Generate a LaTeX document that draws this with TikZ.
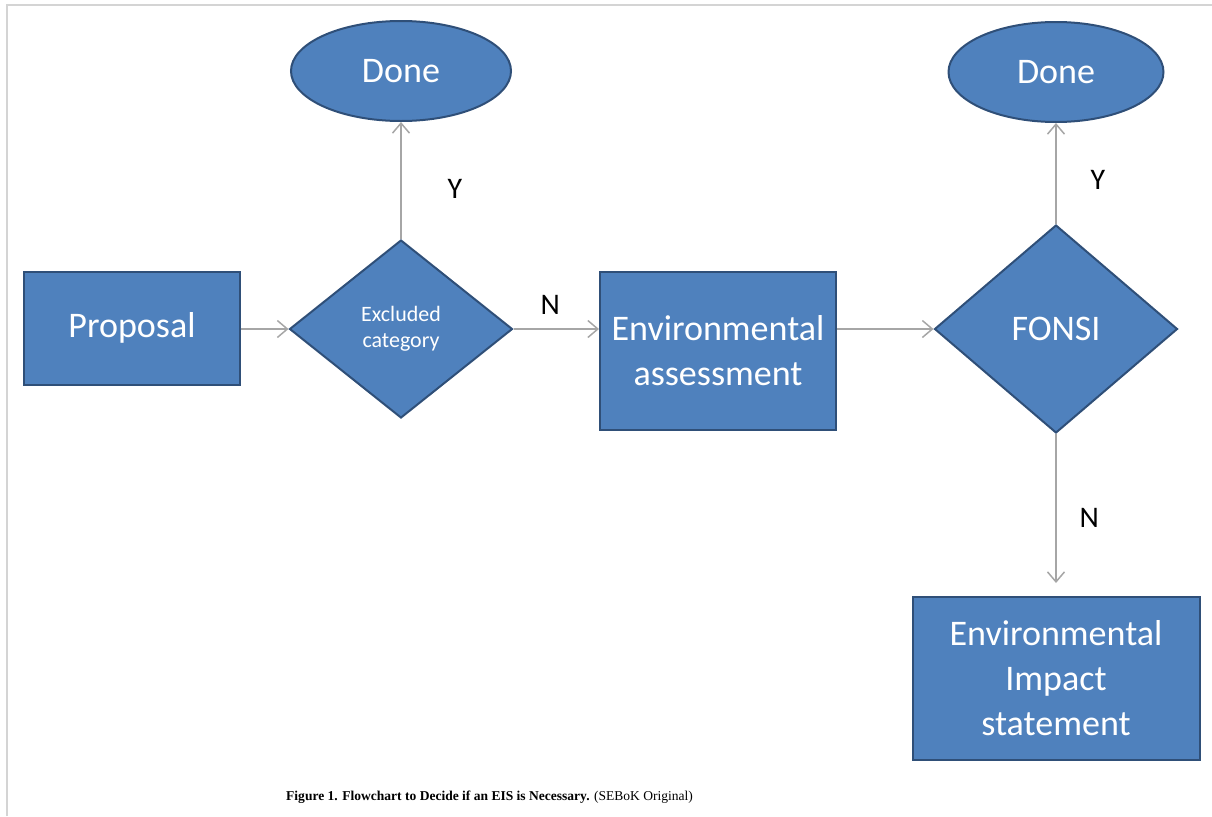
\documentclass[tikz,border=0pt]{standalone}
\usepackage{fontspec}
\setmainfont{Liberation Serif}
\newfontfamily\calibri{Carlito}
\usepackage{xcolor}
\usetikzlibrary{arrows.meta,positioning,shapes.geometric}
\definecolor{boxblue}{HTML}{4F81BD}
\definecolor{boxedge}{HTML}{2F4F78}
\definecolor{arrowgray}{HTML}{A6A6A6}
\definecolor{framegray}{HTML}{D4D4D4}

\begin{document}
\begin{tikzpicture}[
    x=0.2mm, y=-0.2mm,
    >=Latex,
    block/.style={draw=boxedge, fill=boxblue, line width=0.4mm, text=white, align=center, inner sep=0pt, font=\calibri\fontsize{20.5}{25.6}\selectfont},
    terminal/.style={block, ellipse, minimum width=43mm, minimum height=20mm},
    decision/.style={block, diamond, aspect=1.2},
    line/.style={-{Straight Barb[length=2mm, width=3.4mm]}, arrowgray, line width=0.3mm},
    yn/.style={text=black, font=\calibri\fontsize{17}{20}\selectfont}
]
\useasboundingbox (0,0) rectangle (1212,816);
% Page frame
\draw[framegray, line width=0.4mm] (7,816) -- (7,5) -- (1212,5);

% Main row, left to right.
\node[block, minimum width=43mm, minimum height=22.6mm] (proposal) at (132,328) {Proposal};
\node[decision, minimum width=44.6mm, minimum height=35.6mm, font=\calibri\fontsize{12.5}{15}\selectfont] (excluded) at (401,329) {Excluded\\category};
\node[block, minimum width=47.2mm, minimum height=31.6mm] (assess) at (718,351) {Environmental\\assessment};
\node[decision, minimum width=48.6mm, minimum height=41.6mm] (fonsi) at (1056,329) {FONSI};

% Outcomes of the two decisions.
\node[terminal, minimum width=44mm, above=23.4mm of excluded] (done1) {Done};
\node[terminal, above=20.2mm of fonsi] (done2) {Done};
\node[block, minimum width=57.4mm, minimum height=32.6mm, below=32.4mm of fonsi] (eis) {Environmental\\Impact\\statement};

% Connectors.
\draw[line] (proposal.east |- excluded.west) -- (excluded.west);
\draw[line] (excluded.north) -- node[yn, pos=0.43, right=8mm]{Y} (done1.south);
\draw[line] (excluded.east) -- node[yn, pos=0.43, above=1.6mm]{N} (excluded.east -| assess.west);
\draw[line] (fonsi.west -| assess.east) -- (fonsi.west);
\draw[line] (fonsi.north) -- node[yn, pos=0.44, right=5.6mm]{Y} (done2.south);
\draw[line, shorten >=2.6mm] (fonsi.south) -- node[yn, pos=0.52, right=3.4mm]{N} (eis.north);

% Caption below the chart.
\node[anchor=west, font=\fontsize{7.7}{9}\selectfont] (caption) at (280,797) {\textbf{Figure 1. Flowchart to Decide if an EIS is Necessary.} (SEBoK Original)};
\end{tikzpicture}
\end{document}
